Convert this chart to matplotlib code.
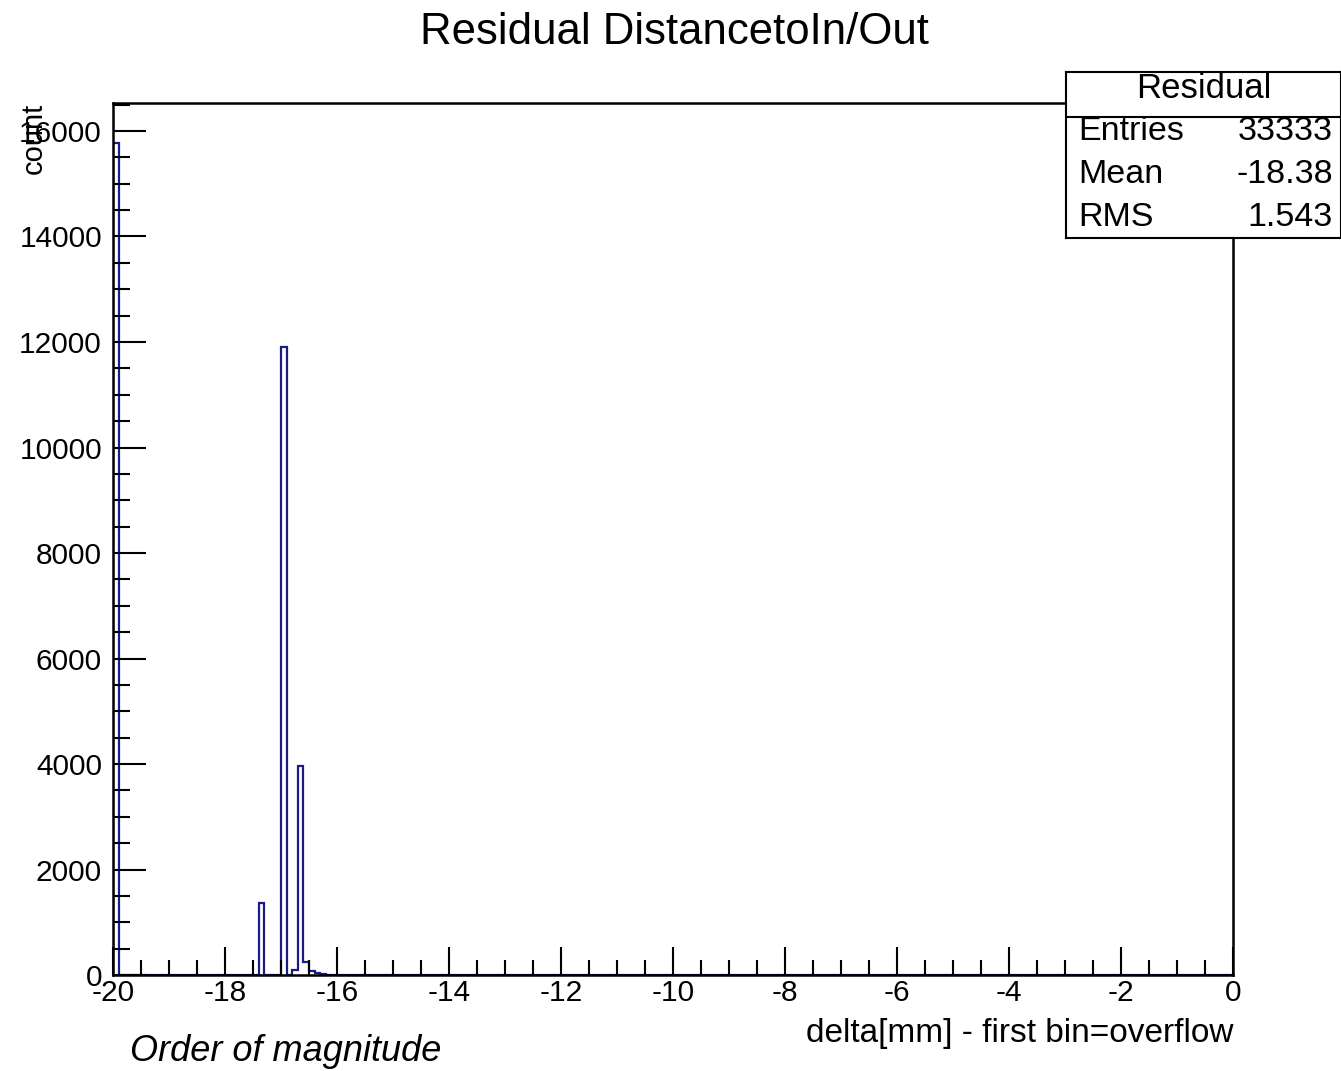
import numpy as np
import matplotlib
matplotlib.use("Agg")
import matplotlib.pyplot as plt
from matplotlib.ticker import MultipleLocator

plt.rcParams['font.family'] = ['Liberation Sans', 'DejaVu Sans']
plt.rcParams['axes.unicode_minus'] = False

# histogram: 200 bins of 0.1 mm from -20 to 0, overflow folded into first bin
bin_lo, bin_hi, n_bins = -20.0, 0.0, 200
filled_bins = [0, 26, 30, 32, 33, 34, 35, 36, 37]
filled_counts = [15780, 1370, 11900, 100, 3970, 250, 80, 45, 20]

stats_names = ["Entries", "Mean", "RMS"]
stats_values = ["33333", "-18.38", "1.543"]

edges = np.linspace(bin_lo, bin_hi, n_bins + 1)
counts = np.zeros(n_bins)
counts[filled_bins] = filled_counts

fig = plt.figure(figsize=(13.41, 10.71), dpi=100)
ax = fig.add_axes([0.0843, 0.0896, 0.8352, 0.8142])
ax.stairs(counts, edges, color='#1c1c86', linewidth=1.6)

ax.set_xlim(bin_lo, bin_hi)
ax.set_ylim(0, 16530)
ax.xaxis.set_major_locator(MultipleLocator(2))
ax.xaxis.set_minor_locator(MultipleLocator(0.5))
ax.yaxis.set_major_locator(MultipleLocator(2000))
ax.yaxis.set_minor_locator(MultipleLocator(500))
ax.tick_params(axis='both', which='both', direction='in', width=1.5, labelsize=21.5)
ax.tick_params(axis='x', which='major', length=20, pad=3)
ax.tick_params(axis='x', which='minor', length=11)
ax.tick_params(axis='y', which='major', length=24, pad=8)
ax.tick_params(axis='y', which='minor', length=12)
for s in ax.spines.values():
    s.set_linewidth(1.8)

ax.set_xlabel("delta[mm] - first bin=overflow", fontsize=24, loc='right', labelpad=8)
ax.set_ylabel("count", fontsize=21, loc='top')
ax.yaxis.set_label_coords(-0.058, 1.0)
fig.text(0.503, 0.970, "Residual DistancetoIn/Out", ha='center', va='center', fontsize=31.5)
fig.text(0.097, 0.018, "Order of magnitude", ha='left', va='center', fontsize=26, style='italic')

# stats box
box = fig.add_axes([0.795, 0.778, 0.205, 0.155])
box.set_xlim(0, 1)
box.set_ylim(0, 1)
box.set_xticks([])
box.set_yticks([])
for s in box.spines.values():
    s.set_linewidth(1.5)
box.axhline(0.73, color='black', linewidth=1.5)
box.text(0.5, 0.9, "Residual", ha='center', va='center', fontsize=25)
for i, (name, val) in enumerate(zip(stats_names, stats_values)):
    y = 0.64 - i * 0.26
    box.text(0.045, y, name, ha='left', va='center', fontsize=24.5)
    box.text(0.97, y, val, ha='right', va='center', fontsize=24.5)

fig.savefig("out.png", dpi=100)
